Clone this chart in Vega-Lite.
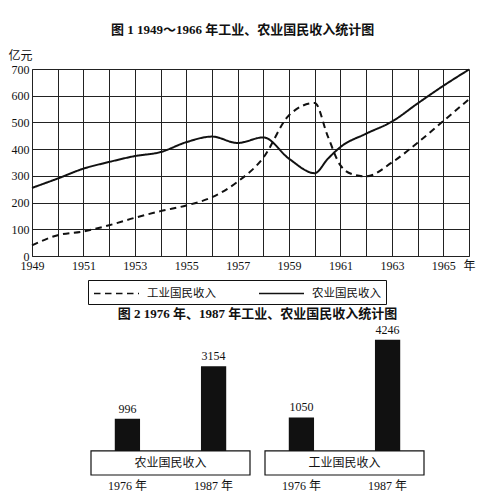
{
  "$schema": "https://vega.github.io/schema/vega-lite/v6.json",
  "padding": {"left": 8, "top": 24, "right": 0, "bottom": 0},
  "spacing": 36,
  "background": "white",
  "config": {
    "font": "Liberation Serif, Noto Sans CJK SC",
    "view": {"stroke": null},
    "title": {"font": "Liberation Serif, Noto Sans CJK SC", "fontSize": 13, "fontWeight": "bold", "color": "#111"},
    "axis": {"labelFont": "Liberation Serif, Noto Sans CJK SC", "labelColor": "#111", "labelFontSize": 12}
  },
  "datasets": {
    "lines": [
      {"series": "农业国民收入", "year": 1949, "value": 255},
      {"series": "农业国民收入", "year": 1950, "value": 290},
      {"series": "农业国民收入", "year": 1951, "value": 327},
      {"series": "农业国民收入", "year": 1952, "value": 352},
      {"series": "农业国民收入", "year": 1953, "value": 374},
      {"series": "农业国民收入", "year": 1954, "value": 389},
      {"series": "农业国民收入", "year": 1955, "value": 426},
      {"series": "农业国民收入", "year": 1956, "value": 447},
      {"series": "农业国民收入", "year": 1957, "value": 423},
      {"series": "农业国民收入", "year": 1958, "value": 444},
      {"series": "农业国民收入", "year": 1959, "value": 364},
      {"series": "农业国民收入", "year": 1960, "value": 310},
      {"series": "农业国民收入", "year": 1960.5, "value": 363},
      {"series": "农业国民收入", "year": 1961, "value": 408},
      {"series": "农业国民收入", "year": 1962, "value": 458},
      {"series": "农业国民收入", "year": 1963, "value": 503},
      {"series": "农业国民收入", "year": 1964, "value": 571},
      {"series": "农业国民收入", "year": 1965, "value": 637},
      {"series": "农业国民收入", "year": 1966, "value": 698},
      {"series": "工业国民收入", "year": 1949, "value": 40},
      {"series": "工业国民收入", "year": 1950, "value": 78},
      {"series": "工业国民收入", "year": 1951, "value": 92},
      {"series": "工业国民收入", "year": 1952, "value": 115},
      {"series": "工业国民收入", "year": 1953, "value": 143},
      {"series": "工业国民收入", "year": 1954, "value": 168},
      {"series": "工业国民收入", "year": 1955, "value": 189},
      {"series": "工业国民收入", "year": 1956, "value": 220},
      {"series": "工业国民收入", "year": 1957, "value": 278},
      {"series": "工业国民收入", "year": 1958, "value": 368},
      {"series": "工业国民收入", "year": 1959, "value": 527},
      {"series": "工业国民收入", "year": 1960, "value": 573},
      {"series": "工业国民收入", "year": 1960.5, "value": 450},
      {"series": "工业国民收入", "year": 1961, "value": 339},
      {"series": "工业国民收入", "year": 1961.5, "value": 305},
      {"series": "工业国民收入", "year": 1962, "value": 298},
      {"series": "工业国民收入", "year": 1963, "value": 350},
      {"series": "工业国民收入", "year": 1964, "value": 424},
      {"series": "工业国民收入", "year": 1965, "value": 505},
      {"series": "工业国民收入", "year": 1966, "value": 587}
    ],
    "bars": [
      {"group": "农业国民收入", "year": "1976", "value": 996},
      {"group": "农业国民收入", "year": "1987", "value": 3154},
      {"group": "工业国民收入", "year": "1976", "value": 1050},
      {"group": "工业国民收入", "year": "1987", "value": 4246}
    ]
  },
  "vconcat": [
    {
      "title": {"text": "图 1   1949～1966 年工业、农业国民收入统计图", "offset": 12, "dx": -8, "anchor": "middle"},
      "width": 437,
      "height": 187,
      "data": {"name": "lines"},
      "mark": {"type": "line", "interpolate": "monotone", "strokeWidth": 2, "color": "#111"},
      "encoding": {
        "x": {
          "field": "year", "type": "quantitative",
          "scale": {"domain": [1949, 1966], "nice": false, "zero": false},
          "axis": {
            "values": [1949,1950,1951,1952,1953,1954,1955,1956,1957,1958,1959,1960,1961,1962,1963,1964,1965,1966],
            "labelExpr": "datum.value == 1966 ? '年' : (datum.value % 2 == 1 ? '' + datum.value : '')",
            "grid": true, "gridColor": "#222", "gridOpacity": 1, "gridWidth": 1,
            "ticks": false, "domain": true, "domainColor": "#222", "labelPadding": 4, "title": null, "labelFlush": false
          }
        },
        "y": {
          "field": "value", "type": "quantitative",
          "scale": {"domain": [0, 700], "nice": false},
          "axis": {
            "values": [0,100,200,300,400,500,600,700],
            "grid": true, "gridColor": "#222", "gridOpacity": 1, "gridWidth": 1,
            "ticks": false, "domain": true, "domainColor": "#222", "labelPadding": 3,
            "title": "亿元", "titleAngle": 0, "titleX": -24, "titleY": -10, "titleAlign": "left",
            "titleBaseline": "alphabetic", "titleFontWeight": "normal", "titleFontSize": 12,
            "titleFont": "Noto Sans CJK SC", "titleColor": "#111"
          }
        },
        "strokeDash": {
          "field": "series", "type": "nominal",
          "scale": {"domain": ["工业国民收入", "农业国民收入"], "range": [[6.5, 4.5], [1, 0]]},
          "legend": {
            "orient": "none", "legendX": 56, "legendY": 211, "direction": "horizontal", "title": null,
            "strokeColor": "#111", "padding": 5,
            "symbolType": "M-3,0H3", "symbolSize": 225, "symbolOffset": 15,
            "symbolStrokeWidth": 1.5, "symbolStrokeColor": "#111", "symbolFillColor": "transparent",
            "labelFont": "Noto Sans CJK SC", "labelFontSize": 11.5, "labelColor": "#111",
            "columnPadding": 40, "labelOffset": 22
          }
        }
      }
    },
    {
      "spacing": 0,
      "hconcat": [
        {
          "width": 58,
          "height": 1,
          "data": {"values": []},
          "mark": {"type": "point", "opacity": 0}
        },
        {
          "title": {"text": "图 2   1976 年、1987 年工业、农业国民收入统计图", "offset": 3, "anchor": "middle"},
          "data": {"name": "bars"},
          "facet": {
            "column": {
              "field": "group", "type": "nominal",
              "sort": ["农业国民收入", "工业国民收入"],
              "header": {"labels": false, "title": null}
            }
          },
          "spacing": 13,
          "spec": {
            "width": 159,
            "height": 150,
            "layer": [
              {
                "mark": {"type": "bar", "color": "#111"},
                "encoding": {
                  "x": {
                    "field": "year", "type": "nominal",
                    "scale": {"paddingInner": 0.707, "paddingOuter": 0.276},
                    "axis": {"labelExpr": "datum.label + ' 年'", "labelAngle": 0, "ticks": false, "domain": false, "title": null, "labelPadding": 4, "labelFontSize": 12}
                  },
                  "y": {
                    "field": "value", "type": "quantitative",
                    "scale": {"domain": [-1320, 4856], "nice": false, "zero": false},
                    "axis": null
                  },
                  "y2": {"datum": -1320}
                }
              },
              {
                "mark": {"type": "text", "baseline": "bottom", "dy": -3, "fontSize": 12, "color": "#111"},
                "encoding": {
                  "x": {"field": "year", "type": "nominal"},
                  "y": {"field": "value", "type": "quantitative"},
                  "text": {"field": "value", "type": "quantitative", "format": "d"}
                }
              },
              {
                "transform": [{"filter": "datum.year == '1976'"}],
                "mark": {"type": "rect", "fill": "white", "stroke": "#111", "strokeWidth": 1.2},
                "encoding": {
                  "y": {"datum": -330},
                  "y2": {"datum": -1320}
                }
              },
              {
                "transform": [{"filter": "datum.year == '1976'"}],
                "mark": {"type": "text", "fontSize": 12, "font": "Noto Sans CJK SC", "color": "#111"},
                "encoding": {
                  "y": {"datum": -825},
                  "text": {"field": "group", "type": "nominal"}
                }
              }
            ]
          }
        }
      ]
    }
  ]
}
